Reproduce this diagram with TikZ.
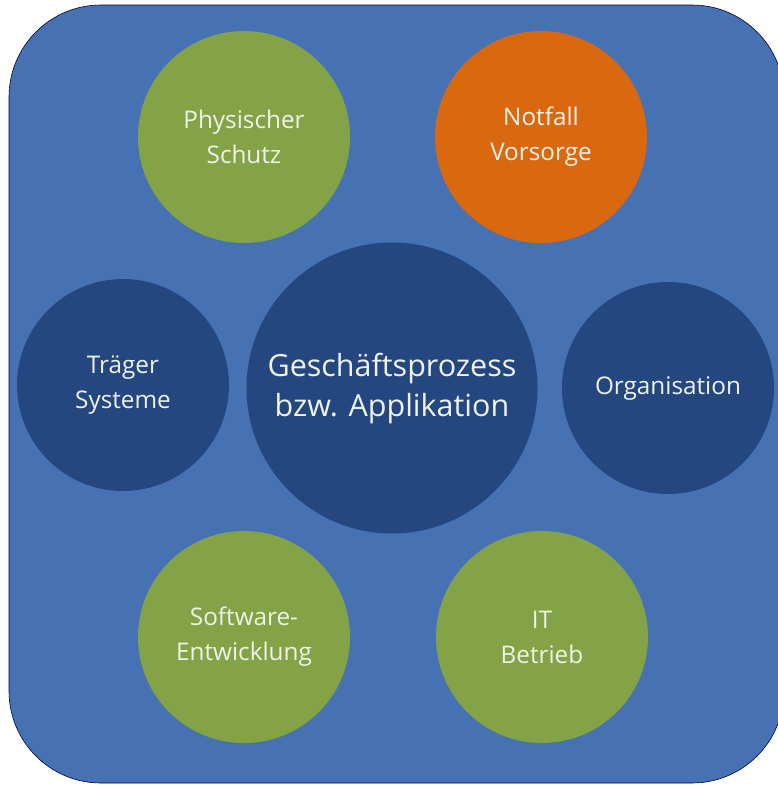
\documentclass[tikz,border=0pt]{standalone}
\usepackage{fontspec}
\setmainfont{Open Sans}
\definecolor{bgblue}{HTML}{4672B4}
\definecolor{darkblue}{HTML}{244780}
\definecolor{leafgreen}{HTML}{83A346}
\definecolor{rustorange}{HTML}{D9680E}
\definecolor{textlight}{HTML}{EEF2EA}
\tikzset{
  ball/.style={circle,inner sep=0pt,minimum size=212pt,align=center,text=textlight,
    font=\fontsize{24.3}{35}\selectfont},
  bigball/.style={ball,minimum size=291pt,font=\fontsize{30.5}{40}\selectfont}
}
\begin{document}
\begin{tikzpicture}[x=1pt,y=-1pt,line join=round]
                \useasboundingbox (0,0) rectangle (778,785);
                \clip (0,0) rectangle (778,785);
                \draw[fill=bgblue,draw=black!75!blue,line width=0.6pt,rounded corners=92pt]
                (9,5) rectangle (784,783);
                % circles
                \node[bigball,fill=darkblue] (prozess) at (392,388) {Geschäftsprozess\\bzw. Applikation};
                \node[ball,fill=leafgreen] (schutz) at (244,137) {Physischer\\Schutz};
                \node[ball,fill=rustorange] (vorsorge) at (541,137) {Notfall\\Vorsorge};
                \node[ball,fill=darkblue] (traeger) at (123,385) {Träger\\Systeme};
                \node[ball,fill=darkblue] (orga) at (668,388) {Organisation};
                \node[ball,fill=leafgreen] (software) at (244,637) {Software-\\Entwicklung};
                \node[ball,fill=leafgreen] (betrieb) at (542,637) {IT\\Betrieb};
\end{tikzpicture}
\end{document}
